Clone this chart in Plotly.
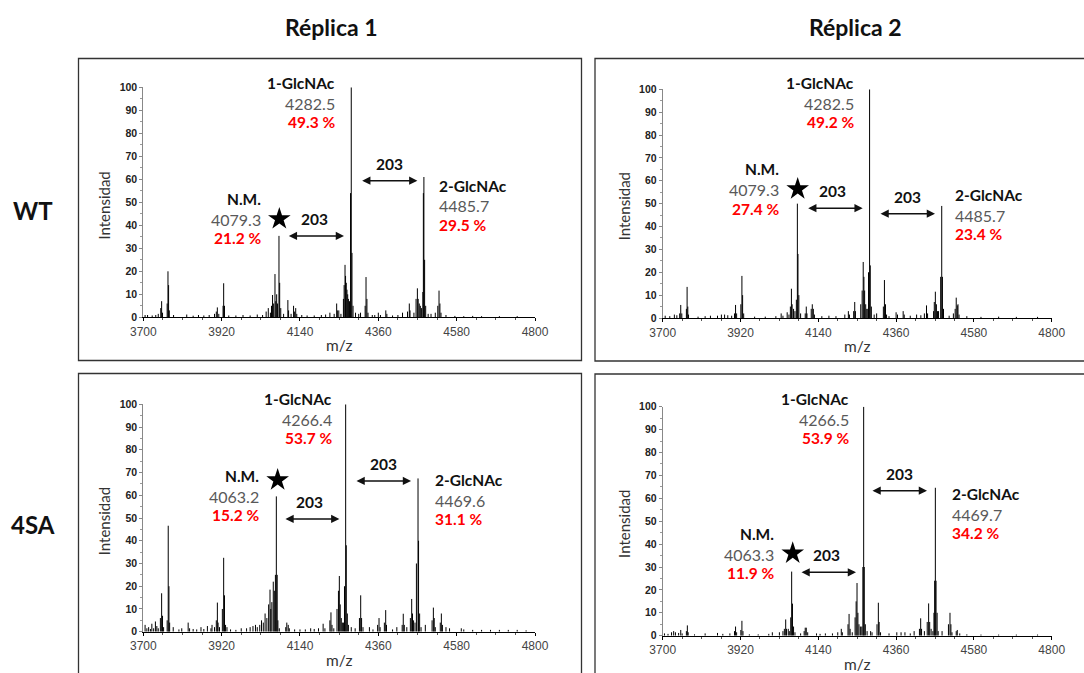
import plotly.graph_objects as go

W, H = 1084, 673

# ---------------- data ----------------
COLS = ["Réplica 1", "Réplica 2"]
ROWS = ["WT", "4SA"]

X_TICKS = [3700, 3920, 4140, 4360, 4580, 4800]
Y_TICKS = [0, 10, 20, 30, 40, 50, 60, 70, 80, 90, 100]

# WT - Réplica 1 : peak m/z and relative intensity
WT1_MZ = [3705, 3712, 3725, 3735, 3742, 3749, 3751.5, 3754, 3767, 3769.3, 3771, 3773, 3785, 3822, 3840,
          3855, 3870, 3885, 3900, 3905, 3907.9, 3912, 3924, 3925.7, 3928, 3940, 3960, 3980, 4000, 4020,
          4035, 4045, 4051, 4057, 4060, 4063, 4066, 4069.8, 4072, 4074.5, 4077, 4081, 4083, 4086, 4094,
          4106, 4108, 4115, 4122, 4125, 4128, 4131, 4145, 4160, 4180, 4200, 4212, 4224, 4236, 4243,
          4245, 4249, 4255, 4262, 4264, 4266.5, 4268, 4270, 4272, 4274, 4276, 4279, 4282, 4284, 4286,
          4289, 4296, 4305, 4310, 4323, 4325.5, 4328, 4331, 4343, 4350, 4360, 4366, 4381, 4384, 4400,
          4415, 4428, 4442, 4447, 4449, 4460, 4466, 4469.7, 4472, 4475, 4478, 4481, 4485, 4486.5, 4488,
          4490, 4493, 4500, 4508, 4520, 4527, 4530.5, 4533, 4536, 4550, 4575, 4600, 4625, 4650, 4700, 4750]
WT1_INT = [1, 1, 0.8, 1, 1.5, 4, 7, 2, 6, 20, 14, 3, 1, 1.2, 0.7,
           1, 0.8, 1, 1.5, 2.5, 4.3, 1.5, 5, 14.8, 5, 0.8, 0.8, 1, 0.8, 1.2,
           1, 2.5, 4, 2, 5, 9.7, 6, 18.8, 7, 10, 6, 35.4, 15, 4, 1.5,
           7.5, 3, 1.5, 5, 2.5, 4, 1.5, 1, 0.8, 0.8, 1, 1.2, 2, 1.5, 6,
           3, 3, 1.5, 8, 14, 22.8, 18, 15, 12, 10, 8, 7, 54, 100, 28,
           5, 2, 1.5, 2, 5, 17.5, 8, 2, 1, 1, 2, 1, 3, 1.5, 0.8,
           1, 2, 2.5, 6, 3, 2, 8, 12.6, 8, 6, 5, 4, 11, 54, 61,
           25, 5, 1.5, 1.5, 2, 5, 11.6, 6, 2, 1, 0.6, 0.5, 0.6, 0.5, 0.5, 0.5]

# WT - Réplica 2
WT2_MZ = [3707, 3720, 3733, 3740, 3748, 3751, 3754, 3767, 3769, 3771, 3773, 3800, 3820, 3835, 3855,
          3866, 3875, 3884, 3895, 3903, 3906, 3909, 3921, 3924, 3926, 3929, 3960, 3990, 4020, 4035,
          4040, 4052, 4057, 4061, 4064, 4066, 4070, 4074, 4078, 4080.8, 4082.5, 4085, 4090, 4103, 4106,
          4108, 4120, 4123, 4126, 4129, 4150, 4170, 4190, 4215, 4225, 4228, 4240, 4243, 4245, 4260,
          4264, 4267, 4269, 4271, 4274, 4277, 4280, 4282, 4285, 4287, 4290, 4298, 4305, 4324, 4327,
          4330, 4333, 4340, 4360, 4364, 4380, 4383, 4400, 4418, 4430, 4440, 4446, 4449, 4466, 4468,
          4471, 4474, 4477, 4480, 4486, 4489, 4491, 4494, 4510, 4522, 4527, 4530, 4533, 4535, 4538,
          4560, 4600, 4650, 4700, 4760]
WT2_INT = [1, 0.8, 1.5, 1.2, 2, 5.7, 2, 4, 13.6, 5, 1.5, 0.6, 0.8, 1, 1,
           1.5, 1.5, 1.2, 1, 2, 5.7, 2, 6, 18.4, 10, 2, 0.6, 0.6, 0.8, 2,
           1, 2.5, 1.5, 5, 12.8, 6, 4, 3, 8, 50, 28, 10, 2, 2, 5,
           2, 4, 6, 4, 1.5, 0.8, 1, 0.8, 1.5, 3, 1.5, 3, 7, 3, 6,
           12, 24.5, 18, 12, 6, 4, 4, 20, 100, 23, 5, 1.5, 2, 5, 16.6,
           6, 1.5, 0.8, 2.5, 1.5, 3, 1.5, 1, 1.5, 1.2, 2, 5.5, 2, 3, 7,
           11.5, 6, 3, 3, 18, 49, 18, 4, 1, 2, 4, 8.9, 5.5, 6, 1.5,
           0.8, 0.5, 0.6, 0.5, 0.5]

# 4SA - Réplica 1
SA1_MZ = [3705, 3710, 3715, 3720, 3724, 3729, 3734, 3738, 3742, 3748, 3751.5, 3754, 3757, 3767, 3770,
          3772, 3774, 3784, 3800, 3808, 3826, 3830, 3840, 3850, 3862, 3870, 3880, 3890, 3893, 3900,
          3905, 3908, 3910, 3914, 3922, 3925.7, 3928, 3931, 3935, 3945, 3960, 3975, 3990, 4000, 4008,
          4015, 4020, 4027, 4032, 4037, 4042, 4047, 4052, 4055.8, 4058, 4061, 4065, 4068, 4071, 4073.6,
          4076, 4078, 4082, 4100, 4103, 4107, 4110, 4125, 4140, 4155, 4170, 4180, 4192, 4205, 4210,
          4224, 4227, 4230, 4235, 4244, 4248, 4250.5, 4253, 4256, 4259, 4262, 4265, 4268.3, 4270, 4273,
          4276, 4284, 4295, 4307, 4310.5, 4313, 4317, 4335, 4345, 4358, 4362, 4365, 4377, 4380.7, 4383,
          4400, 4412, 4427, 4430, 4433, 4440, 4450, 4453.7, 4456, 4459, 4463, 4467, 4471.5, 4473, 4476,
          4480, 4492, 4511, 4514.6, 4517, 4520, 4534, 4537, 4540, 4550, 4560, 4593, 4600, 4625, 4650,
          4675, 4700, 4725, 4750, 4775]
SA1_INT = [3, 1.5, 2, 1.2, 3.5, 1.5, 4.5, 2.5, 1.5, 6, 16.9, 7, 2, 5, 46.6,
           20, 4, 2, 1, 1.5, 4, 1.5, 1.2, 1, 2, 1.2, 2.5, 1.5, 3, 2,
           5, 12.8, 4, 2, 10, 32.5, 16, 3, 2, 1, 0.8, 1.5, 1.5, 2, 2.5,
           3, 2, 3, 5, 4, 8, 6, 12, 18.5, 10, 13, 22, 18, 25, 59.5,
           25, 5, 1.5, 2, 4, 3, 1.5, 1, 1, 1, 1.5, 1.2, 1.5, 3.5, 1.5,
           5, 8.5, 3, 1.5, 10, 18, 24.5, 12, 6, 4, 4, 20, 100, 38, 8,
           3, 2, 1.5, 6, 16, 6, 2, 2, 1, 3, 6, 2, 4, 9.5, 3,
           1, 2, 3, 7.9, 3, 2, 6, 14.4, 8, 5, 4, 30, 67.4, 40, 8,
           2, 3, 5, 10.6, 6, 2, 4, 8, 3, 2, 1.5, 1.5, 1, 0.8, 0.8,
           0.8, 0.8, 0.8, 0.8, 0.6]

# 4SA - Réplica 2
SA2_MZ = [3705, 3715, 3725, 3731, 3736, 3745, 3751, 3755, 3767, 3769.7, 3772, 3790, 3820, 3855, 3870,
          3890, 3903, 3906, 3909, 3921, 3924, 3927, 3945, 3970, 4000, 4010, 4030, 4040, 4044, 4047.8,
          4050, 4055, 4058, 4062, 4064.7, 4067, 4070, 4074, 4090, 4100, 4103, 4106, 4110, 4135, 4145,
          4160, 4180, 4195, 4205, 4208, 4224, 4227, 4230, 4236, 4244, 4247, 4249.5, 4252, 4255, 4259,
          4263, 4266, 4268.3, 4270, 4273, 4278, 4288, 4292, 4306, 4309.8, 4312, 4316, 4340, 4362, 4374,
          4385, 4400, 4411, 4426, 4429.5, 4432, 4440, 4448, 4452, 4455, 4459, 4464, 4467, 4469, 4471,
          4473, 4476, 4479, 4490, 4508, 4512.4, 4515, 4518, 4530, 4533, 4540, 4560, 4600, 4650, 4700,
          4760]
SA2_INT = [1, 0.8, 1.5, 2, 1.5, 1.2, 2.5, 1, 2, 4.5, 1.5, 0.6, 1, 1.2, 0.8,
           1, 2, 4, 1.5, 2.5, 6.5, 2, 0.6, 0.6, 0.8, 1.5, 1.5, 2, 3, 7.1,
           3, 3, 2, 8, 28, 14, 4, 1.5, 1, 2, 3.5, 3.5, 1.5, 1, 0.8,
           1, 1, 1.5, 3, 1.5, 5, 9.5, 3, 1.5, 8, 15, 23, 10, 5, 4,
           4, 30, 100, 30, 5, 2, 2, 1.5, 5, 14.4, 6, 1.5, 1, 1.5, 1.5,
           1.5, 1, 2, 3, 7.6, 3, 2, 6, 14.1, 6, 3, 2, 10, 24, 64.6,
           24, 10, 2, 2, 5, 10, 5, 1.5, 2, 2.5, 1, 0.6, 0.5, 0.5, 0.5,
           0.5]

SPECTRA_MZ = [WT1_MZ, WT2_MZ, SA1_MZ, SA2_MZ]
SPECTRA_INT = [WT1_INT, WT2_INT, SA1_INT, SA2_INT]

# peak annotations (text)
NM_MZ = ["4079.3", "4079.3", "4063.2", "4063.3"]
NM_PCT = ["21.2 %", "27.4 %", "15.2 %", "11.9 %"]
G1_MZ = ["4282.5", "4282.5", "4266.4", "4266.5"]
G1_PCT = ["49.3 %", "49.2 %", "53.7 %", "53.9 %"]
G2_MZ = ["4485.7", "4485.7", "4469.6", "4469.7"]
G2_PCT = ["29.5 %", "23.4 %", "31.1 %", "34.2 %"]
DELTA = "203"

# ---------------- layout / placement ----------------
def px_x(p):
    return p / W

def px_y(p):
    return 1 - p / H

# plot areas in pixels: (left, right, bottom(y0), top(y100))
AREAS = [(143.3, 535.0, 317.3, 87.3),
         (662.7, 1051.7, 318.0, 89.3),
         (143.3, 535.0, 631.7, 404.3),
         (662.7, 1051.7, 635.7, 406.7)]
# outer boxes (pixels); edges beyond the canvas are cut off as in the original
BOXES = [(78.5, 581.5, 58.5, 360.5),
         (595.0, 1100.0, 58.5, 361.0),
         (78.5, 581.5, 373.5, 690.0),
         (595.0, 1100.0, 374.0, 690.0)]

# label placement in data coordinates per panel
PLACE = [
    dict(g1=(4245, [102, 93, 85]), nm=(4035, [51.3, 42.6, 34.3]), star=(4082, 42.8),
         d1=(4180, 42.8), a1=(4104.5, 4263.7, 35.4), d2=(4391, 66.7), a2=(4310.5, 4469.7, 59.4),
         g2=(4525.8, [57.1, 48.6, 40.3])),
    dict(g1=(4246.6, [102.9, 93.9, 85.9]), nm=(4033.6, [65, 56, 47.8]), star=(4081.7, 56.4),
         d1=(4179.7, 55.5), a1=(4107.2, 4265.5, 48), d2=(4392.7, 52.9), a2=(4311.7, 4470, 45.6),
         g2=(4521.9, [53.8, 44.9, 36.7])),
    dict(g1=(4235.6, [102.3, 93.4, 85.3]), nm=(4029.6, [68.5, 59.4, 51.3]), star=(4077.3, 66.7),
         d1=(4168, 57.2), a1=(4095, 4250.6, 49.6), d2=(4374, 73.8), a2=(4294.6, 4451.9, 66.3),
         g2=(4514.6, [66.7, 57.5, 49.6])),
    dict(g1=(4231.6, [103.3, 94.5, 86.5]), nm=(4019.5, [44.3, 35.5, 27.5]), star=(4067.6, 36),
         d1=(4163.7, 35.2), a1=(4088.3, 4246.7, 27.7), d2=(4371, 70.6), a2=(4289, 4447.4, 63.3),
         g2=(4512.4, [61.9, 53.1, 45])),
]

LBL_FONT = "Lato"
TICK_FONT = "Liberation Sans"

fig = go.Figure()
annotations = []
shapes = []
layout_axes = {}

for i in range(4):
    xs, ys = [], []
    for m, h in zip(SPECTRA_MZ[i], SPECTRA_INT[i]):
        xs += [m, m, None]
        ys += [0, h, None]
    sfx = "" if i == 0 else str(i + 1)
    xa, ya = "x" + sfx, "y" + sfx
    fig.add_trace(go.Scatter(x=xs, y=ys, mode="lines", line=dict(color="black", width=1.0),
                             xaxis=xa, yaxis=ya, hoverinfo="skip", showlegend=False))
    pl = PLACE[i]
    fig.add_trace(go.Scatter(x=[pl["star"][0]], y=[pl["star"][1]], mode="markers",
                             marker=dict(symbol="star", size=17, color="black"),
                             xaxis=xa, yaxis=ya, hoverinfo="skip", showlegend=False, cliponaxis=False))

    l, r, b, t = AREAS[i]
    layout_axes["xaxis" + sfx] = dict(
        domain=[px_x(l), px_x(r)], range=[3700, 4800], anchor=ya,
        tickmode="array", tickvals=X_TICKS, ticktext=[str(v) for v in X_TICKS],
        showline=True, linecolor="black", linewidth=1.2, ticks="outside", ticklen=3,
        tickcolor="black", tickfont=dict(family=TICK_FONT, size=12, color="#444"),
        showgrid=False, zeroline=False, automargin=False,
        minor=dict(ticks="outside", ticklen=2, dtick=55, tick0=3700, tickcolor="#555"))
    layout_axes["yaxis" + sfx] = dict(
        domain=[px_y(b), px_y(t)], range=[0, 100], anchor=xa,
        tickmode="array", tickvals=Y_TICKS,
        showline=True, linecolor="#888", linewidth=1, ticks="outside", ticklen=3,
        tickcolor="#888", tickfont=dict(family=TICK_FONT, size=10.5, color="#222", weight="bold"),
        showgrid=False, zeroline=False, automargin=False,
        minor=dict(ticks="outside", ticklen=2, dtick=5, tickcolor="#999"))

    # axis titles
    annotations.append(dict(text="Intensidad", xref="paper", yref="paper",
                            x=px_x(l - 39), y=px_y((b + t) / 2 + 3), textangle=-90,
                            showarrow=False, xanchor="center", yanchor="middle",
                            font=dict(family=LBL_FONT, size=15, color="#333")))
    annotations.append(dict(text="m/z", xref="paper", yref="paper",
                            x=px_x((l + r) / 2), y=px_y(b + 28),
                            showarrow=False, xanchor="center", yanchor="middle",
                            font=dict(family=LBL_FONT, size=15.5, color="#333")))

    def lines3(xv, yv, texts, anchor):
        styles = [dict(family=LBL_FONT, size=15.5, color="#111", weight="bold"),
                  dict(family=LBL_FONT, size=16, color="#595959"),
                  dict(family=LBL_FONT, size=15.5, color="#ff0000", weight="bold")]
        for tx, yy, st in zip(texts, yv, styles):
            annotations.append(dict(text=tx, x=xv, y=yy / 100.0, xref=xa, yref=ya + " domain",
                                    showarrow=False, xanchor=anchor, yanchor="middle", font=st))

    lines3(pl["g1"][0], pl["g1"][1], ["1-GlcNAc", G1_MZ[i], G1_PCT[i]], "right")
    lines3(pl["nm"][0], pl["nm"][1], ["N.M.", NM_MZ[i], NM_PCT[i]], "right")
    lines3(pl["g2"][0], pl["g2"][1], ["2-GlcNAc", G2_MZ[i], G2_PCT[i]], "left")

    for key in ("d1", "d2"):
        annotations.append(dict(text=DELTA, x=pl[key][0], y=pl[key][1], xref=xa, yref=ya,
                                showarrow=False, xanchor="center", yanchor="middle",
                                font=dict(family=LBL_FONT, size=15.5, color="#111", weight="bold")))
    for key in ("a1", "a2"):
        x0, x1, yy = pl[key]
        annotations.append(dict(text="", x=x1, y=yy, ax=x0, ay=yy, xref=xa, yref=ya,
                                axref=xa, ayref=ya, showarrow=True, arrowside="end+start",
                                arrowhead=2, startarrowhead=2, arrowsize=1.1, startarrowsize=1.1,
                                arrowwidth=1.5, arrowcolor="#111", standoff=0, startstandoff=0))

    bl, br, bt, bb = BOXES[i]
    shapes.append(dict(type="rect", xref="paper", yref="paper",
                       x0=px_x(bl), x1=px_x(br), y0=px_y(bb), y1=px_y(bt),
                       line=dict(color="#333", width=1.3), fillcolor="rgba(0,0,0,0)"))

# column and row headers
for txt, cx in zip(COLS, [331, 855]):
    annotations.append(dict(text=txt, xref="paper", yref="paper", x=px_x(cx), y=px_y(27),
                            showarrow=False, xanchor="center", yanchor="middle",
                            font=dict(family=LBL_FONT, size=23, color="#111", weight="bold")))
for txt, cy in zip(ROWS, [210, 524]):
    annotations.append(dict(text=txt, xref="paper", yref="paper", x=px_x(33), y=px_y(cy),
                            showarrow=False, xanchor="center", yanchor="middle",
                            font=dict(family=LBL_FONT, size=24, color="#111", weight="bold")))

fig.update_layout(width=W, height=H, autosize=False,
                  margin=dict(l=0, r=0, t=0, b=0, pad=0, autoexpand=False),
                  paper_bgcolor="white", plot_bgcolor="white",
                  annotations=annotations, shapes=shapes, **layout_axes)

fig.write_html("out.html")
